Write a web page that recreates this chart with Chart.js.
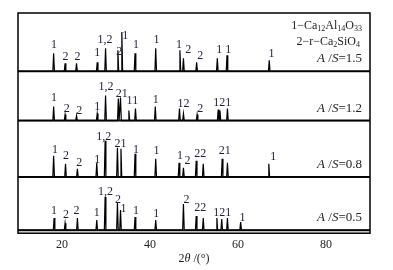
<!DOCTYPE html>
<html>
<head>
<meta charset="utf-8">
<script src="https://cdn.jsdelivr.net/npm/chart.js@4.4.1/dist/chart.umd.min.js"></script>
<style>
html, body { margin: 0; padding: 0; background: #fff; }
#wrap { width: 393px; height: 270px; }
</style>
</head>
<body>
<div id="wrap"><canvas id="xrd"></canvas></div>
<script>
// x axis
var xMin = 10, xMax = 90;
var xTicks = [20, 40, 60, 80];

// sample names (A/S ratio), top to bottom
var samples = ['1.5', '1.2', '0.8', '0.5'];
// vertical offsets of each pattern (intensity units)
var offsets = [161, 112, 56, 3];

// peak positions (2theta) and heights
var pos15 = [18.1, 20.7, 23.3, 28.0, 29.9, 32.7, 33.6, 36.6, 41.3, 46.8, 47.6, 50.6, 55.3, 57.5, 67.1];
var int15 = [18, 8, 8, 9, 23, 21, 39, 18, 23, 21, 13, 9, 13, 16, 11];

var pos12 = [18.1, 20.7, 23.3, 28.0, 29.9, 32.8, 33.3, 35.2, 36.7, 41.2, 46.7, 47.6, 50.7, 55.5, 55.9, 57.6];
var int12 = [14, 6, 5, 7, 25, 22, 23, 10, 12, 14, 12, 7, 6, 11, 10, 12];

var pos08 = [18.1, 20.8, 23.5, 27.9, 29.8, 32.6, 33.4, 36.6, 41.3, 46.6, 47.6, 50.5, 52.1, 56.4, 57.6, 67.0];
var int08 = [21, 13, 8, 14, 36, 29, 28, 23, 18, 14, 9, 16, 13, 18, 14, 13];

var pos05 = [18.2, 20.7, 23.5, 27.9, 29.8, 32.6, 33.3, 36.6, 41.3, 47.6, 50.5, 52.1, 55.2, 56.3, 57.6, 60.6];
var int05 = [12, 7, 12, 10, 33, 27, 20, 13, 10, 26, 14, 12, 12, 11, 12, 8];

// phase labels: [2theta, text, level above baseline]
var lab15 = [[18.2,'1',23],[20.8,'2',11],[23.5,'2',11],[28.0,'1',15],[29.8,'1,2',28],[33.0,'2',16],[34.4,'1',32],
             [36.8,'1',23],[41.5,'1',28],[46.6,'1',23],[48.7,'2',18],[51.4,'2',12],[55.75,'1',18],[57.8,'1',18],[67.6,'1',14]];
var lab12 = [[18.2,'1',19],[21.1,'2',9],[23.9,'2',7],[28.0,'1',11],[30.0,'1,2',30],[33.6,'21',23],[36.0,'11',16],
             [41.3,'1',17],[47.6,'12',14],[51.4,'2',9],[56.4,'121',15]];
var lab08 = [[18.4,'1',24],[20.9,'2',18],[23.9,'2',11],[28.0,'1',14],[29.5,'1,2',37],[33.3,'21',30],[36.8,'1',24],
             [41.5,'1',23],[46.8,'1',18],[48.5,'2',13],[51.4,'22',20],[57.0,'21',23],[68.0,'1',17]];
var lab05 = [[18.2,'1',16],[20.9,'2',12],[23.3,'2',16],[27.9,'1',14],[29.9,'1,2',35],[32.7,'2',27],[34.0,'1',18],
             [36.8,'1',16],[41.4,'1',13],[48.3,'2',27],[51.4,'22',19],[56.4,'121',14],[61.0,'1',9]];

var peakPos = [pos15, pos12, pos08, pos05];
var peakInt = [int15, int12, int08, int05];
var peakLab = [lab15, lab12, lab08, lab05];

var serif = '"Liberation Serif", "Times New Roman", serif';

function stickPattern(pos, ints, off) {
    var pts = [{x: xMin, y: off}];
    for (var i = 0; i < pos.length; i++) {
        pts.push({x: pos[i] - 0.18, y: off});
        pts.push({x: pos[i], y: off + ints[i]});
        pts.push({x: pos[i] + 0.18, y: off});
    }
    pts.push({x: xMax, y: off});
    return pts;
}

var datasets = [];
for (let k = 0; k < samples.length; k++) {
    datasets.push({
        label: 'A/S=' + samples[k],
        data: stickPattern(peakPos[k], peakInt[k], offsets[k]),
        borderColor: '#000',
        borderWidth: 1.2,
        pointRadius: 0,
        tension: 0
    });
    datasets.push({
        label: 'base' + k,
        data: [{x: xMin, y: offsets[k]}, {x: xMax, y: offsets[k]}],
        borderColor: '#111',
        borderWidth: 2,
        pointRadius: 0
    });
}

// draws mixed runs of text, right aligned at x
function drawRuns(ctx, runs, xRight, y) {
    var w = 0;
    runs.forEach(function(r) { ctx.font = r.font; w += ctx.measureText(r.t).width; });
    var x = xRight - w;
    runs.forEach(function(r) {
        ctx.font = r.font;
        ctx.fillText(r.t, x, y + (r.dy || 0));
        x += ctx.measureText(r.t).width;
    });
}

var annotate = {
    id: 'annotate',
    afterDraw: function(chart) {
        var ctx = chart.ctx, a = chart.chartArea;
        var xs = chart.scales.x, ys = chart.scales.y;
        ctx.save();
        // frame
        ctx.strokeStyle = '#000';
        ctx.lineWidth = 1.5;
        ctx.strokeRect(a.left, a.top, a.right - a.left, a.bottom - a.top);

        // peak labels
        ctx.fillStyle = '#1b1f3a';
        ctx.font = '12px ' + serif;
        ctx.textAlign = 'center';
        ctx.textBaseline = 'alphabetic';
        for (var k = 0; k < peakLab.length; k++) {
            peakLab[k].forEach(function(l) {
                ctx.fillText(l[1], xs.getPixelForValue(l[0]), ys.getPixelForValue(offsets[k] + l[2]));
            });
        }

        // legend and sample names
        ctx.textAlign = 'left';
        ctx.fillStyle = '#222';
        var f = '12px ' + serif, fs = '8px ' + serif, fi = 'italic 13px ' + serif, fn = '13px ' + serif;
        var xr = a.right - 8;
        drawRuns(ctx, [{t:'1\u2212Ca', font:f},{t:'12', font:fs, dy:2},{t:'Al', font:f},{t:'14', font:fs, dy:2},
                       {t:'O', font:f},{t:'33', font:fs, dy:2}], xr, a.top + 16);
        drawRuns(ctx, [{t:'2\u2212r\u2212Ca', font:f},{t:'2', font:fs, dy:2},{t:'SiO', font:f},{t:'4', font:fs, dy:2}], xr - 2, a.top + 32);
        for (var k = 0; k < samples.length; k++) {
            var yb = ys.getPixelForValue(offsets[k]) - 9;
            drawRuns(ctx, [{t:'A', font:fi},{t:' /', font:fn},{t:'S', font:fi},{t:'=' + samples[k], font:fn}], xr, yb);
        }

        // x axis title with italic theta
        var ty = xs.bottom - 8;
        var runs = [{t:'2', font:'12px ' + serif},{t:'\u03b8', font:'italic 12px ' + serif},{t:' /(\u00b0)', font:'12px ' + serif}];
        var w = 0;
        runs.forEach(function(r) { ctx.font = r.font; w += ctx.measureText(r.t).width; });
        drawRuns(ctx, runs, (a.left + a.right) / 2 + w / 2, ty);
        ctx.restore();
    }
};

var chart = new Chart(document.getElementById('xrd'), {
    type: 'line',
    data: { datasets: datasets },
    options: {
        responsive: true,
        maintainAspectRatio: false,
        animation: false,
        layout: { padding: { left: 18, right: 23, top: 13, bottom: 0 } },
        plugins: { legend: { display: false }, tooltip: { enabled: false } },
        scales: {
            x: {
                type: 'linear',
                min: xMin,
                max: xMax,
                afterBuildTicks: function(scale) {
                    scale.ticks = xTicks.map(function(v) { return {value: v}; });
                },
                grid: { display: false, drawTicks: false },
                border: { display: false },
                ticks: { color: '#222', padding: 4, font: { family: serif, size: 12 } },
                title: { display: true, text: '2\u03b8 /(\u00b0)', color: 'rgba(0,0,0,0)',
                         padding: { top: 0, bottom: 0 }, font: { family: serif, size: 12 } }
            },
            y: {
                display: false,
                min: 0,
                max: 219
            }
        }
    },
    plugins: [annotate]
});
</script>
</body>
</html>
